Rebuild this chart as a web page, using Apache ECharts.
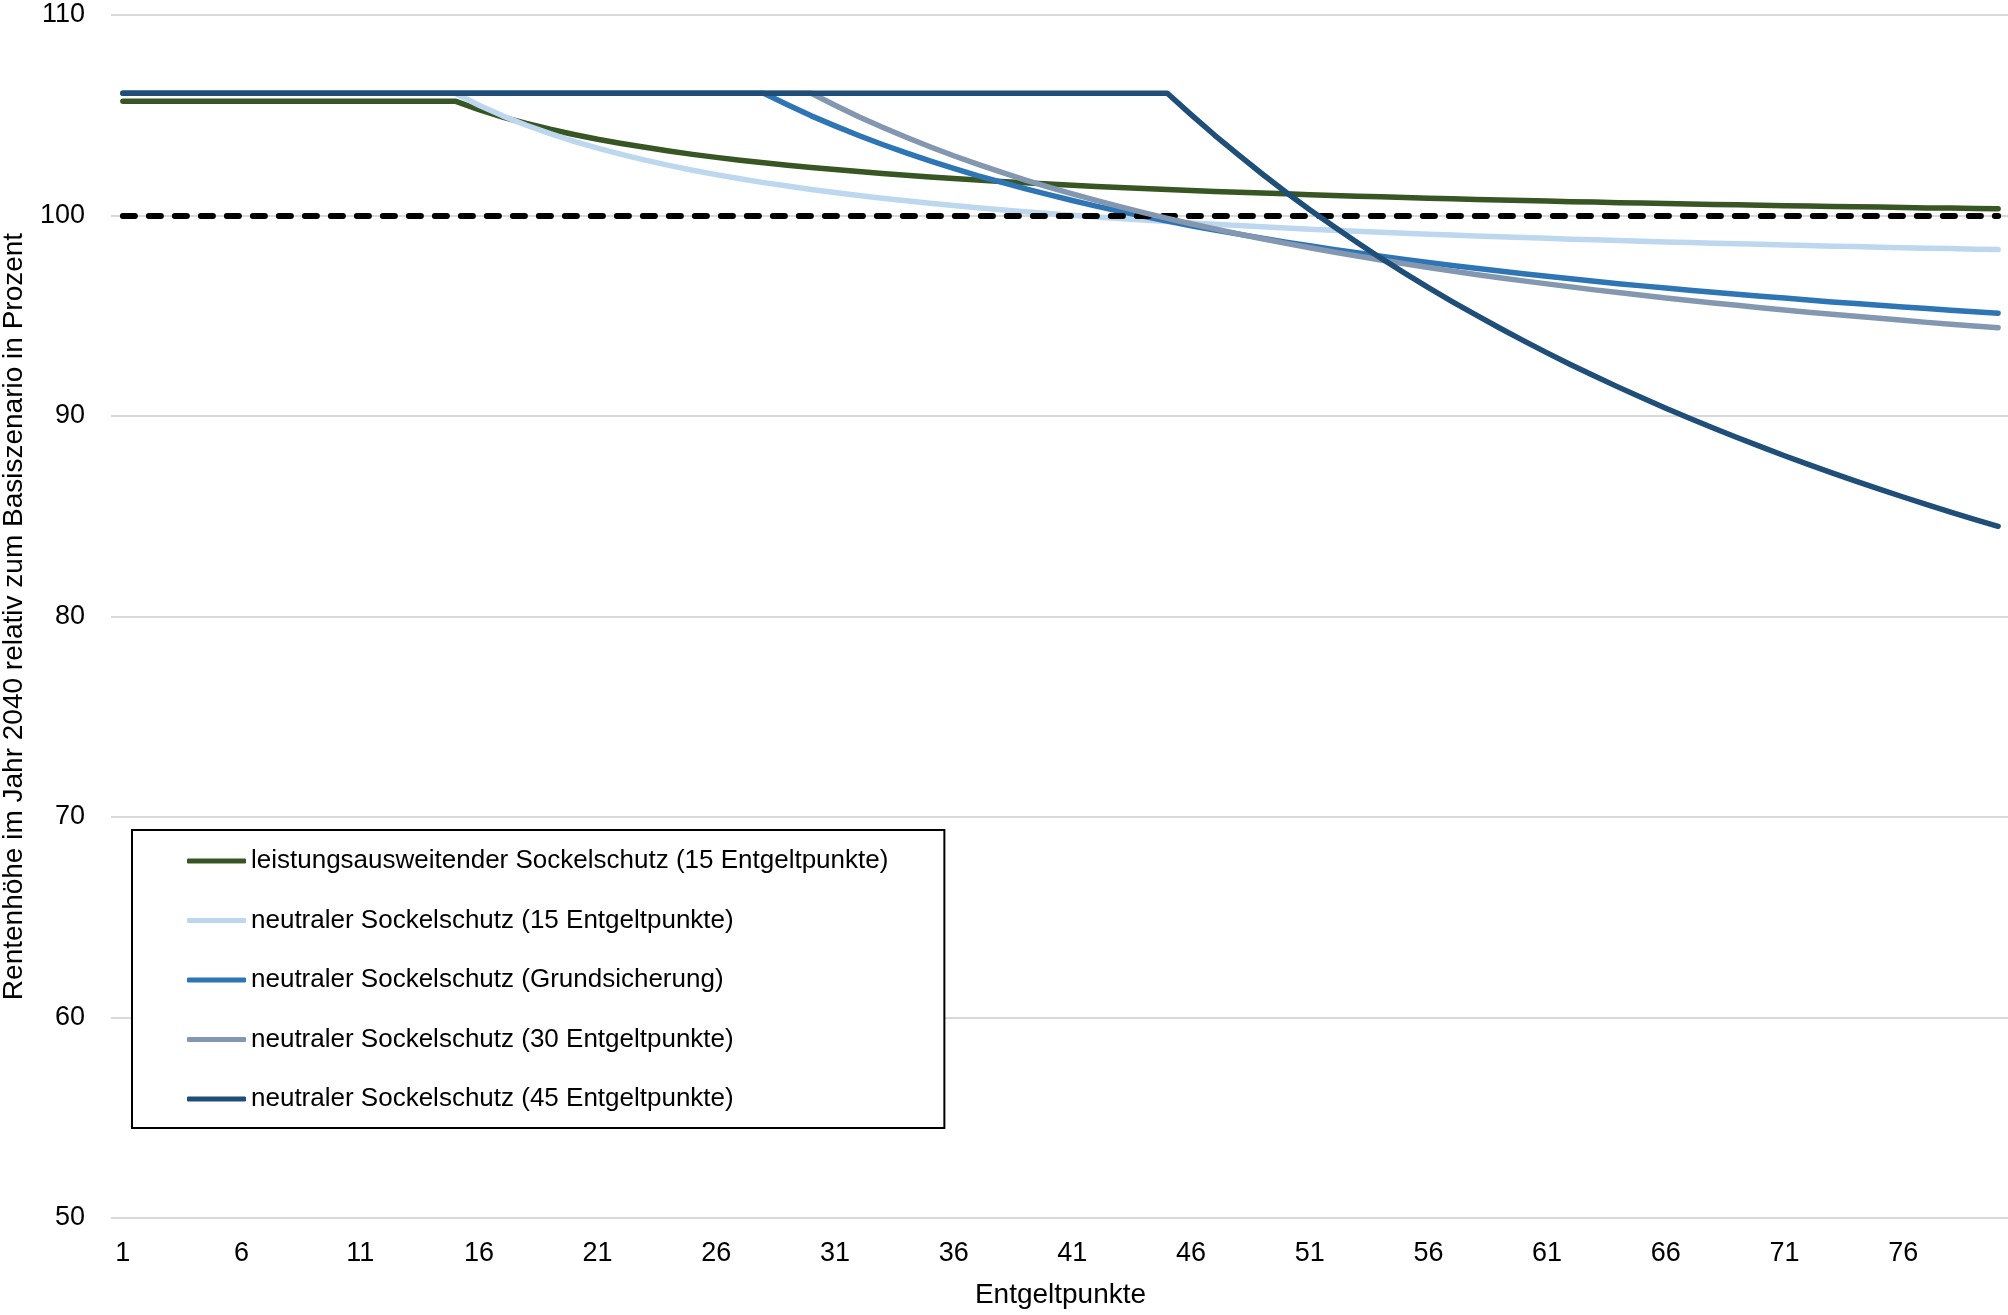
<!DOCTYPE html>
<html>
<head>
<meta charset="utf-8">
<script src="https://cdn.jsdelivr.net/npm/echarts@6/dist/echarts.min.js"></script>
<style>
html,body{margin:0;padding:0;background:#fff;}
#chart{width:2008px;height:1315px;}
</style>
</head>
<body>
<div id="chart"></div>
<script>
var categories = ['1','2','3','4','5','6','7','8','9','10','11','12','13','14','15','16','17','18','19','20',
'21','22','23','24','25','26','27','28','29','30','31','32','33','34','35','36','37','38','39','40',
'41','42','43','44','45','46','47','48','49','50','51','52','53','54','55','56','57','58','59','60',
'61','62','63','64','65','66','67','68','69','70','71','72','73','74','75','76','77','78','79','80'];

var seriesNames = [
  'leistungsausweitender Sockelschutz (15 Entgeltpunkte)',
  'neutraler Sockelschutz (15 Entgeltpunkte)',
  'neutraler Sockelschutz (Grundsicherung)',
  'neutraler Sockelschutz (30 Entgeltpunkte)',
  'neutraler Sockelschutz (45 Entgeltpunkte)'
];

var leistung15 = [105.7,105.7,105.7,105.7,105.7,105.7,105.7,105.7,105.7,105.7,105.7,105.7,105.7,105.7,105.7,
105.28,104.91,104.59,104.30,104.04,103.80,103.59,103.40,103.22,103.05,
102.90,102.76,102.63,102.51,102.39,102.29,102.19,102.09,102.01,101.92,
101.84,101.77,101.70,101.63,101.57,101.51,101.45,101.40,101.35,101.30,
101.25,101.20,101.16,101.12,101.08,101.04,101.00,100.96,100.93,100.90,
100.86,100.83,100.80,100.77,100.75,100.72,100.69,100.67,100.64,100.62,
100.60,100.57,100.55,100.53,100.51,100.49,100.47,100.45,100.44,100.42,
100.40,100.38,100.37,100.35,100.34];

var neutral15 = [106.1,106.1,106.1,106.1,106.1,106.1,106.1,106.1,106.1,106.1,106.1,106.1,106.1,106.1,106.1,
105.50,104.97,104.50,104.08,103.70,103.36,103.05,102.76,102.50,102.26,
102.04,101.83,101.64,101.47,101.30,101.15,101.00,100.86,100.74,100.61,
100.50,100.39,100.29,100.19,100.10,100.01,99.93,99.85,99.77,99.70,
99.63,99.56,99.50,99.44,99.38,99.32,99.27,99.22,99.17,99.12,
99.07,99.03,98.98,98.94,98.90,98.86,98.82,98.79,98.75,98.72,
98.68,98.65,98.62,98.59,98.56,98.53,98.50,98.47,98.45,98.42,
98.39,98.37,98.35,98.32,98.30];

var neutralGS = [106.1,106.1,106.1,106.1,106.1,106.1,106.1,106.1,106.1,106.1,106.1,106.1,106.1,106.1,106.1,
106.1,106.1,106.1,106.1,106.1,106.1,106.1,106.1,106.1,106.1,106.1,106.1,106.1,
105.52,104.97,104.47,103.99,103.54,103.12,102.72,
102.35,101.99,101.66,101.34,101.04,100.75,100.47,100.21,99.96,99.72,
99.49,99.28,99.07,98.87,98.67,98.49,98.31,98.14,97.97,97.81,
97.66,97.51,97.37,97.23,97.10,96.97,96.84,96.72,96.60,96.49,
96.38,96.27,96.17,96.07,95.97,95.88,95.78,95.69,95.61,95.52,
95.44,95.36,95.28,95.20,95.13];

var neutral30 = [106.1,106.1,106.1,106.1,106.1,106.1,106.1,106.1,106.1,106.1,106.1,106.1,106.1,106.1,106.1,
106.1,106.1,106.1,106.1,106.1,106.1,106.1,106.1,106.1,106.1,106.1,106.1,106.1,106.1,106.1,
105.50,104.93,104.40,103.90,103.43,
102.98,102.56,102.16,101.78,101.42,101.08,100.75,100.44,100.14,99.86,
99.59,99.33,99.08,98.84,98.61,98.39,98.18,97.98,97.78,97.59,
97.41,97.23,97.06,96.90,96.74,96.59,96.44,96.29,96.16,96.02,
95.89,95.76,95.64,95.52,95.40,95.29,95.18,95.07,94.97,94.87,
94.77,94.67,94.58,94.49,94.40];

var neutral45 = [106.1,106.1,106.1,106.1,106.1,106.1,106.1,106.1,106.1,106.1,106.1,106.1,106.1,106.1,106.1,
106.1,106.1,106.1,106.1,106.1,106.1,106.1,106.1,106.1,106.1,106.1,106.1,106.1,106.1,106.1,
106.1,106.1,106.1,106.1,106.1,106.1,106.1,106.1,106.1,106.1,106.1,106.1,106.1,106.1,106.1,
105.03,104.00,103.02,102.07,101.16,100.29,99.46,98.65,97.87,97.13,
96.40,95.71,95.04,94.39,93.76,93.15,92.56,92.00,91.44,90.91,
90.39,89.89,89.40,88.93,88.47,88.02,87.59,87.16,86.75,86.35,
85.96,85.58,85.21,84.85,84.50];

var baselineValue = 100;
var yTicks = {min: 50, max: 110, interval: 10};

var colors = ['#375623', '#BDD7EE', '#2E75B6', '#8497B0', '#1F4E79'];
var font = '"Liberation Sans", Arial, sans-serif';

var chart = echarts.init(document.getElementById('chart'), null, {renderer: 'canvas'});

function mkSeries(i, data, extra) {
  var s = {
    name: seriesNames[i],
    type: 'line',
    data: data,
    showSymbol: false,
    symbol: 'none',
    smooth: false,
    lineStyle: {color: colors[i], width: 5.5, cap: 'round', join: 'round'},
    itemStyle: {color: colors[i]},
    emphasis: {disabled: true},
    z: 2 + i
  };
  if (extra) { for (var k in extra) s[k] = extra[k]; }
  return s;
}

var option = {
  animation: false,
  backgroundColor: '#ffffff',
  textStyle: {fontFamily: font},
  grid: {left: 111, right: -2, top: 15, bottom: 97, containLabel: false, outerBoundsMode: 'none'},
  legend: {
    data: seriesNames,
    orient: 'vertical',
    left: 132,
    top: 830,
    padding: [18, 56, 16, 55],
    itemGap: 33.5,
    itemWidth: 59,
    itemHeight: 5,
    itemTextGap: 5,
    icon: 'roundRect',
    backgroundColor: '#ffffff',
    borderColor: '#000000',
    borderWidth: 2,
    borderRadius: 0,
    selectedMode: false,
    textStyle: {fontFamily: font, fontSize: 26, color: '#000000'}
  },
  xAxis: {
    type: 'category',
    data: categories,
    boundaryGap: true,
    name: 'Entgeltpunkte',
    nameLocation: 'middle',
    nameGap: 63,
    nameTextStyle: {fontFamily: font, fontSize: 28, color: '#000000'},
    axisLine: {show: false},
    axisTick: {show: false},
    axisLabel: {interval: 4, margin: 22, fontFamily: font, fontSize: 27, color: '#000000'},
    splitLine: {show: false}
  },
  yAxis: {
    type: 'value',
    min: yTicks.min,
    max: yTicks.max,
    interval: yTicks.interval,
    name: 'Rentenhöhe im Jahr 2040 relativ zum Basiszenario in Prozent',
    nameLocation: 'middle',
    nameGap: 83,
    nameTextStyle: {fontFamily: font, fontSize: 28, color: '#000000'},
    axisLine: {show: false},
    axisTick: {show: false},
    axisLabel: {margin: 26, fontFamily: font, fontSize: 27, color: '#000000'},
    splitLine: {show: true, lineStyle: {color: '#D9D9D9', width: 2}}
  },
  series: [
    mkSeries(0, leistung15),
    mkSeries(1, neutral15, {
      markLine: {
        silent: true,
        symbol: ['none', 'none'],
        label: {show: false},
        emphasis: {disabled: true},
        lineStyle: {color: '#000000', width: 6, type: [12, 14], cap: 'round'},
        data: [[{coord: [categories[0], baselineValue]}, {coord: [categories[categories.length - 1], baselineValue]}]]
      }
    }),
    mkSeries(2, neutralGS),
    mkSeries(3, neutral30),
    mkSeries(4, neutral45)
  ]
};

chart.setOption(option);
</script>
</body>
</html>
